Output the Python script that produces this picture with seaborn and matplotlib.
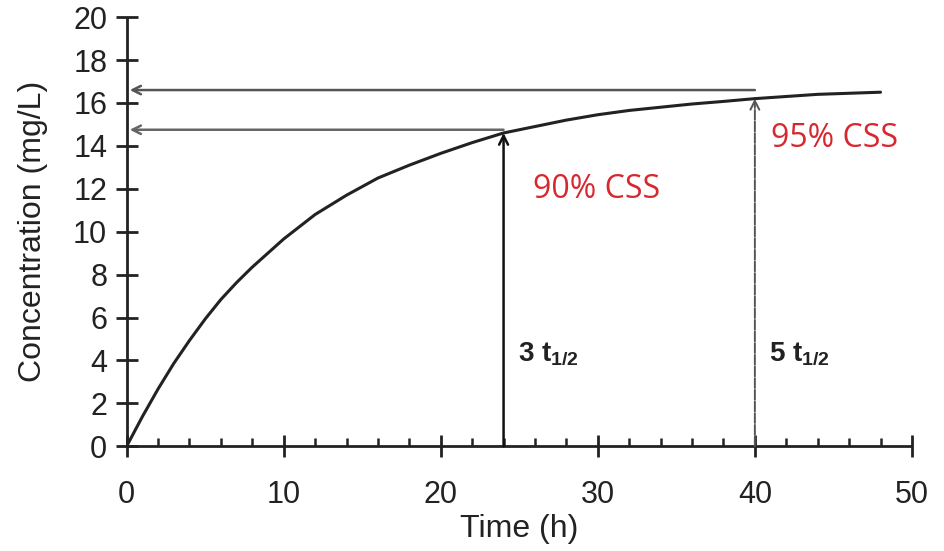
import matplotlib.pyplot as plt
import seaborn as sns
import pandas as pd
from matplotlib.ticker import MultipleLocator

# Values
time_h = [0, 1, 2, 3, 4, 5, 6, 7, 8, 10, 12, 14, 16, 18, 20, 22, 24, 26, 28, 30, 32,
          34, 36, 38, 40, 42, 44, 46, 48]
conc = [0, 1.38, 2.67, 3.86, 4.93, 5.93, 6.84, 7.63, 8.35, 9.66, 10.8, 11.7, 12.5,
        13.1, 13.65, 14.15, 14.6, 14.9, 15.2, 15.45, 15.65, 15.8, 15.95, 16.07, 16.2,
        16.3, 16.4, 16.45, 16.5]

# marker arrows: (time, level reached)
mark_times = [24, 40]
mark_levels = [14.6, 16.2]
plateau_levels = [14.75, 16.6]
mark_labels = ["3 t$_{\\mathbf{1/2}}$", "5 t$_{\\mathbf{1/2}}$"]
css_labels = ["90% CSS", "95% CSS"]

sns.set_style("ticks")
plt.rcParams['font.family'] = ['Liberation Sans', 'DejaVu Sans']
plt.rcParams['mathtext.fontset'] = 'custom'
plt.rcParams['mathtext.rm'] = 'Liberation Sans'
plt.rcParams['mathtext.bf'] = 'Liberation Sans:bold'

df = pd.DataFrame({'time': time_h, 'conc': conc})

fig = plt.figure(figsize=(9.45, 5.51), dpi=100)
ax = fig.add_axes([0.134, 0.19, 0.831, 0.779])

sns.lineplot(data=df, x='time', y='conc', ax=ax, color='#222222', linewidth=2.2)

# horizontal arrows back to the y axis
for t, lev, c in zip(mark_times, plateau_levels, ['#666666', '#555555']):
    ax.annotate('', xy=(0.2, lev), xytext=(t, lev),
                arrowprops=dict(arrowstyle='->', color=c, lw=1.8,
                                mutation_scale=15, shrinkA=0, shrinkB=0))

# vertical arrows up to the curve
ax.annotate('', xy=(mark_times[0], mark_levels[0]), xytext=(mark_times[0], 0),
            arrowprops=dict(arrowstyle='->', color='#111111', lw=1.8,
                            mutation_scale=16, shrinkA=0, shrinkB=0))
ax.annotate('', xy=(mark_times[1], mark_levels[1]), xytext=(mark_times[1], 0),
            arrowprops=dict(arrowstyle='->', color='#555555', lw=1.4,
                            linestyle=(0, (5, 1)), mutation_scale=16,
                            shrinkA=0, shrinkB=0))

for t, lab in zip(mark_times, mark_labels):
    ax.text(t + 0.9, 4.3, lab, fontsize=20, fontweight='bold', color='#222222',
            ha='left', va='center')

ax.text(25.9, 11.95, css_labels[0], fontsize=23, color='#d7282f', ha='left',
        va='center', family=['Open Sans', 'DejaVu Sans'])
ax.text(41.0, 14.35, css_labels[1], fontsize=23, color='#d7282f', ha='left',
        va='center', family=['Open Sans', 'DejaVu Sans'])

ax.set_xlim(0, 50)
ax.set_ylim(0, 20)
ax.xaxis.set_major_locator(MultipleLocator(10))
ax.xaxis.set_minor_locator(MultipleLocator(2))
ax.yaxis.set_major_locator(MultipleLocator(2))
ax.tick_params(axis='both', which='major', direction='inout', length=16, width=2,
               labelsize=22, colors='#222222')
ax.tick_params(axis='x', which='major', pad=16)
ax.tick_params(axis='y', which='major', pad=6)
ax.tick_params(axis='x', which='minor', direction='in', length=6, width=1.8,
               colors='#222222')
ax.set_xlabel('Time (h)', fontsize=23, color='#222222', labelpad=3)
ax.set_ylabel('Concentration (mg/L)', fontsize=23, color='#222222', labelpad=18)

sns.despine(ax=ax)
for s in ['left', 'bottom']:
    ax.spines[s].set_linewidth(2)
    ax.spines[s].set_color('#222222')
    ax.spines[s].set_capstyle('butt')
ax.spines['left'].set_bounds(0, 20)
ax.spines['bottom'].set_bounds(0, 50)

fig.savefig('out.png', dpi=100)
